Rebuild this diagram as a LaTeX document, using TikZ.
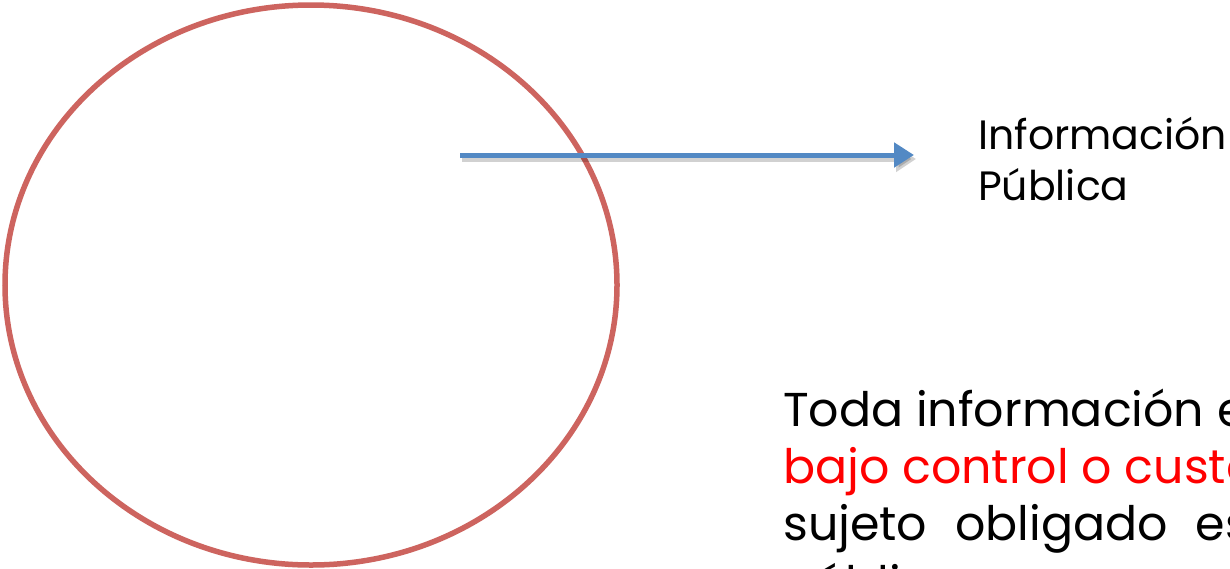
\documentclass[tikz,border=0pt]{standalone}
\usepackage{fontspec}
\setmainfont{Poppins}
\usetikzlibrary{arrows.meta,shapes.geometric}
\definecolor{ringred}{RGB}{205,100,95}
\definecolor{arrowblue}{RGB}{83,137,196}
\definecolor{txtred}{RGB}{255,0,0}
\tikzset{
  ring/.style={draw=ringred,line width=5.5pt},
  conn/.style={draw=arrowblue,line width=5pt,-{Triangle[length=20pt,width=24pt]}},
  connshadow/.style={draw=black,opacity=0.18,line width=6pt,-{Triangle[length=20pt,width=25pt]}},
  label/.style={anchor=base west,inner sep=0pt,font=\fontsize{41}{51}\selectfont},
  body/.style={anchor=base west,inner sep=0pt,font=\fontsize{47.5}{57}\selectfont}
}
\begin{document}
\begin{tikzpicture}[x=1pt,y=-1pt]
\useasboundingbox (0,0) rectangle (1230,568);
\clip (0,0) rectangle (1230,568);
\fill[white] (0,0) rectangle (1230,568);
% circle
\node[ring,ellipse,minimum width=612pt,minimum height=560pt,inner sep=0pt] (circ) at (311,285) {};
% arrow
\coordinate (a0) at (460,155);
\coordinate (a1) at (914,155);
\coordinate (s0) at (462,159);
\coordinate (s1) at (916,159);
\draw[connshadow] (s0) -- (s1);
\draw[conn] (a0) -- (a1);
% labels
\node[label] (info1) at (978,149) {Información};
\node[label] (info2) at (978,200) {Pública};
\node[body] (t1) at (783,426) {Toda información en posesión,};
\node[body,text=txtred] (t2) at (783,483) {bajo control o custodia de un};
\node[body] (t3) at (783,540) {sujeto\hskip 28pt obligado\hskip 28pt es\hskip 28pt considerada};
\node[body] (t4) at (783,600) {pública.};
\end{tikzpicture}
\end{document}
